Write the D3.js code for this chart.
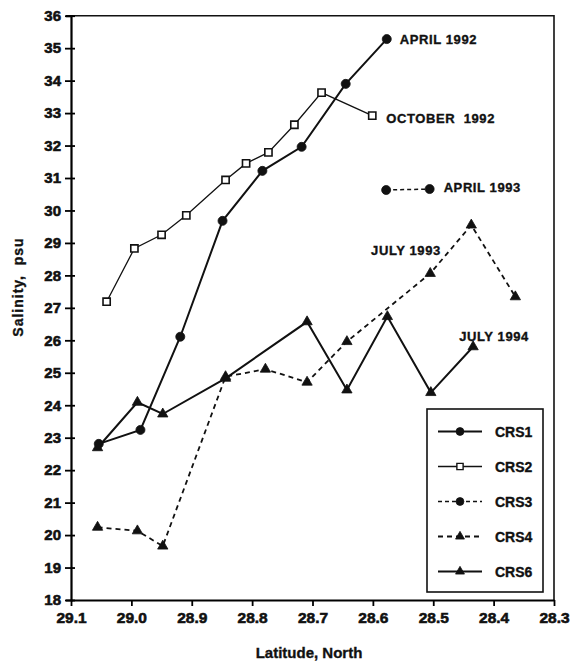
<!DOCTYPE html>
<html>
<head>
<meta charset="utf-8">
<script src="https://cdn.jsdelivr.net/npm/d3@7"></script>
<style>
  html, body { margin: 0; padding: 0; background: #fff; }
  svg { display: block; }
  text { font-family: "Liberation Sans", Arial, Helvetica, sans-serif; font-weight: bold; fill: #111; stroke: #111; stroke-width: 0.35px; }
</style>
</head>
<body>
<svg id="chart" width="573" height="661"></svg>
<script>
// Salinity along the transect, by cruise
const latCRS1 = [29.054, 28.985, 28.919, 28.849, 28.783, 28.718, 28.645, 28.577];
const salCRS1 = [22.81, 23.24, 26.11, 29.68, 31.22, 31.96, 33.90, 35.28];

const latCRS2 = [29.041, 28.995, 28.950, 28.909, 28.844, 28.810, 28.773, 28.730, 28.685, 28.601];
const salCRS2 = [27.19, 28.83, 29.25, 29.85, 30.94, 31.45, 31.79, 32.64, 33.63, 32.92];

const latCRS3 = [28.578, 28.506];
const salCRS3 = [30.63, 30.66];

const latCRS4 = [29.056, 28.990, 28.948, 28.844, 28.778, 28.709, 28.643, 28.505, 28.437, 28.364];
const salCRS4 = [20.24, 20.13, 19.66, 24.88, 25.11, 24.71, 25.96, 28.06, 29.55, 27.34];

const latCRS6 = [29.056, 28.990, 28.948, 28.844, 28.709, 28.643, 28.576, 28.504, 28.434];
const salCRS6 = [22.69, 24.09, 23.73, 24.83, 26.57, 24.47, 26.73, 24.39, 25.80];

const seriesNames = ["CRS1", "CRS2", "CRS3", "CRS4", "CRS6"];
const cruiseLabels = ["APRIL 1992", "OCTOBER  1992", "APRIL 1993", "JULY 1993", "JULY 1994"];

const xTickValues = [29.1, 29.0, 28.9, 28.8, 28.7, 28.6, 28.5, 28.4, 28.3];
const yTickValues = d3.range(18, 37, 1);

// ---- drawing ----
const svg = d3.select("#chart");
const plotLeft = 71, plotRight = 554, plotTop = 15.7, plotBottom = 600;

const x = d3.scaleLinear().domain([29.1, 28.3]).range([plotLeft, plotRight]);
const y = d3.scaleLinear().domain([18, 36]).range([plotBottom, plotTop]);

const zip = (a, b) => a.map((v, i) => [v, b[i]]);

const series = [
  { name: "CRS1", pts: zip(latCRS1, salCRS1), sym: "circle", fill: true, width: 2, dash: null },
  { name: "CRS2", pts: zip(latCRS2, salCRS2), sym: "square", fill: false, width: 1.3, dash: null },
  { name: "CRS3", pts: zip(latCRS3, salCRS3), sym: "circle", fill: true, width: 1.5, dash: "4,3" },
  { name: "CRS4", pts: zip(latCRS4, salCRS4), sym: "triangle", fill: true, width: 1.8, dash: "5,4" },
  { name: "CRS6", pts: zip(latCRS6, salCRS6), sym: "triangle", fill: true, width: 2, dash: null }
];

// frame: top and right edges
svg.append("path")
  .attr("d", `M${plotLeft},${plotTop}H${plotRight}V${plotBottom}`)
  .attr("fill", "none").attr("stroke", "#111").attr("stroke-width", 1.6);

const styleTicks = (g, size) => g.selectAll("text")
  .attr("font-family", null).attr("font-size", null)
  .style("font-family", "'Liberation Sans', Arial, sans-serif")
  .style("font-weight", "700")
  .style("font-size", size)
  .style("stroke", "#111")
  .style("stroke-width", "0.6px")
  .attr("fill", "#111");

// y axis with ticks crossing the line
const yAxis = svg.append("g")
  .attr("transform", `translate(${plotLeft},0)`)
  .call(d3.axisLeft(y).tickValues(yTickValues).tickFormat(d3.format("d")).tickSize(5).tickPadding(5));
yAxis.attr("font-family", null).attr("font-size", null);
yAxis.selectAll(".tick line").attr("x2", -6).attr("x1", 4).attr("stroke-width", 1.8);
yAxis.select(".domain").attr("stroke-width", 2.2);
styleTicks(yAxis, "15px");

// x axis
const xAxis = svg.append("g")
  .attr("transform", `translate(0,${plotBottom})`)
  .call(d3.axisBottom(x).tickValues(xTickValues).tickFormat(d3.format(".1f")).tickSizeInner(6).tickSizeOuter(0).tickPadding(6));
xAxis.attr("font-family", null).attr("font-size", null);
xAxis.select(".domain").attr("stroke-width", 2.2);
xAxis.selectAll(".tick line").attr("stroke-width", 1.8);
styleTicks(xAxis, "15.5px");

// axis titles
svg.append("text")
  .attr("transform", "translate(23,287) rotate(-90)")
  .attr("text-anchor", "middle")
  .style("font-size", "14px")
  .style("letter-spacing", "1px")
  .style("white-space", "pre")
  .text("Salinity,  psu");

svg.append("text")
  .attr("x", 309).attr("y", 658)
  .attr("text-anchor", "middle")
  .style("font-size", "15px")
  .text("Latitude, North");

const symbolType = { circle: d3.symbolCircle, square: d3.symbolSquare, triangle: d3.symbolTriangle };
const symbolSize = { circle: 64, square: 52, triangle: 46 };

const line = d3.line().x(d => x(d[0])).y(d => y(d[1]));

series.forEach(s => {
  svg.append("path")
    .datum(s.pts)
    .attr("d", line)
    .attr("fill", "none")
    .attr("stroke", "#111")
    .attr("stroke-width", s.width)
    .attr("stroke-dasharray", s.dash);

  svg.append("g").selectAll("path")
    .data(s.pts)
    .join("path")
    .attr("transform", d => `translate(${x(d[0])},${y(d[1])})`)
    .attr("d", d3.symbol().type(symbolType[s.sym]).size(symbolSize[s.sym]))
    .attr("fill", s.fill ? "#111" : "#fff")
    .attr("stroke", "#111")
    .attr("stroke-width", s.fill ? 0.8 : 1.6);
});

// cruise labels
const lastOf = a => a[a.length - 1];
const labelPlacement = [
  { lat: lastOf(latCRS1), sal: lastOf(salCRS1), dx: 13, dy: 4.5 },
  { lat: lastOf(latCRS2), sal: lastOf(salCRS2), dx: 14, dy: 7.5 },
  { lat: lastOf(latCRS3), sal: lastOf(salCRS3), dx: 14, dy: 2.5 },
  { lat: 28.603, sal: 28.78, dx: 0, dy: 4.5 },
  { lat: 28.457, sal: 26.13, dx: 0, dy: 4.5 }
];
cruiseLabels.forEach((t, i) => {
  const p = labelPlacement[i];
  svg.append("text")
    .attr("x", x(p.lat) + p.dx)
    .attr("y", y(p.sal) + p.dy)
    .style("font-size", "13px")
    .style("letter-spacing", "0.6px")
    .style("white-space", "pre")
    .text(t);
});

// legend
const lg = svg.append("g").attr("transform", "translate(427,409)");
lg.append("rect")
  .attr("width", 116).attr("height", 183)
  .attr("fill", "#fff").attr("stroke", "#111").attr("stroke-width", 1.6);

series.forEach((s, i) => {
  const ry = 22.5 + i * 35;
  lg.append("line")
    .attr("x1", 11).attr("x2", 55).attr("y1", ry).attr("y2", ry)
    .attr("stroke", "#111")
    .attr("stroke-width", s.width)
    .attr("stroke-dasharray", s.dash);
  lg.append("path")
    .attr("transform", `translate(33,${ry})`)
    .attr("d", d3.symbol().type(symbolType[s.sym]).size(symbolSize[s.sym] * 0.75))
    .attr("fill", s.fill ? "#111" : "#fff")
    .attr("stroke", "#111")
    .attr("stroke-width", s.fill ? 0.8 : 1.4);
  lg.append("text")
    .attr("x", 68).attr("y", ry + 5)
    .style("font-size", "14px")
    .text(seriesNames[i]);
});
</script>
</body>
</html>
